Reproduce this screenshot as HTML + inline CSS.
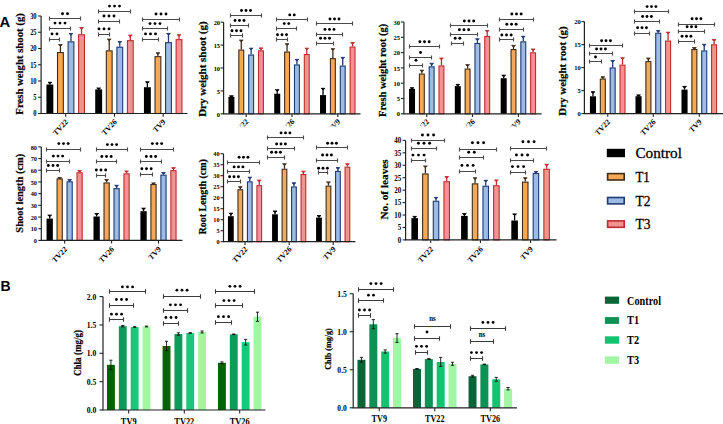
<!DOCTYPE html><html><head><meta charset="utf-8"><style>html,body{margin:0;padding:0;background:#fff;}svg{display:block;}</style></head><body>
<svg width="723" height="424" viewBox="0 0 723 424">
<rect width="723" height="424" fill="#fff"/>
<text transform="translate(-0.5,26.8) scale(1,1)" font-family='"Liberation Sans", sans-serif' font-size="14.8" font-weight="bold" text-anchor="start" fill="#000">A</text>
<text transform="translate(0.5,290.6) scale(1,1)" font-family='"Liberation Sans", sans-serif' font-size="14" font-weight="bold" text-anchor="start" fill="#000">B</text>
<path d="M49.88 84.5V82.3" stroke="#000000" stroke-width="1.3" fill="none"/>
<path d="M47.98 82.3H51.77L49.88 83.9Z" stroke="#000000" stroke-width="0.9" fill="#000000"/>
<rect x="46.42" y="84.5" width="6.9" height="29" fill="#000"/>
<path d="M60.43 52V44.6" stroke="#3f2c1a" stroke-width="1.3" fill="none"/>
<path d="M58.53 44.6H62.33L60.43 46.2Z" stroke="#3f2c1a" stroke-width="0.9" fill="#3f2c1a"/>
<rect x="57.52" y="52.55" width="5.8" height="60.95" fill="#f5a855" stroke="#3f2c1a" stroke-width="1.1"/>
<path d="M70.98 41.3V33.5" stroke="#1d3a74" stroke-width="1.3" fill="none"/>
<path d="M69.08 33.5H72.88L70.98 35.1Z" stroke="#1d3a74" stroke-width="0.9" fill="#1d3a74"/>
<rect x="68.08" y="41.85" width="5.8" height="71.65" fill="#9dbbe3" stroke="#1d3a74" stroke-width="1.1"/>
<path d="M81.53 34.2V27.6" stroke="#c22b2d" stroke-width="1.3" fill="none"/>
<path d="M79.62 27.6H83.43L81.53 29.2Z" stroke="#c22b2d" stroke-width="0.9" fill="#c22b2d"/>
<rect x="78.62" y="34.75" width="5.8" height="78.75" fill="#f29393" stroke="#c22b2d" stroke-width="1.1"/>
<path d="M98.67 89.4V88" stroke="#000000" stroke-width="1.3" fill="none"/>
<path d="M96.77 88H100.58L98.67 89.6Z" stroke="#000000" stroke-width="0.9" fill="#000000"/>
<rect x="95.22" y="89.4" width="6.9" height="24.1" fill="#000"/>
<path d="M109.22 50.3V39.1" stroke="#3f2c1a" stroke-width="1.3" fill="none"/>
<path d="M107.32 39.1H111.12L109.22 40.7Z" stroke="#3f2c1a" stroke-width="0.9" fill="#3f2c1a"/>
<rect x="106.32" y="50.85" width="5.8" height="62.65" fill="#f5a855" stroke="#3f2c1a" stroke-width="1.1"/>
<path d="M119.78 46.7V41.6" stroke="#1d3a74" stroke-width="1.3" fill="none"/>
<path d="M117.88 41.6H121.68L119.78 43.2Z" stroke="#1d3a74" stroke-width="0.9" fill="#1d3a74"/>
<rect x="116.88" y="47.25" width="5.8" height="66.25" fill="#9dbbe3" stroke="#1d3a74" stroke-width="1.1"/>
<path d="M130.32 40.1V35.1" stroke="#c22b2d" stroke-width="1.3" fill="none"/>
<path d="M128.42 35.1H132.22L130.32 36.7Z" stroke="#c22b2d" stroke-width="0.9" fill="#c22b2d"/>
<rect x="127.42" y="40.65" width="5.8" height="72.85" fill="#f29393" stroke="#c22b2d" stroke-width="1.1"/>
<path d="M147.38 87.2V81.8" stroke="#000000" stroke-width="1.3" fill="none"/>
<path d="M145.47 81.8H149.28L147.38 83.4Z" stroke="#000000" stroke-width="0.9" fill="#000000"/>
<rect x="143.93" y="87.2" width="6.9" height="26.3" fill="#000"/>
<path d="M157.92 56.1V52.8" stroke="#3f2c1a" stroke-width="1.3" fill="none"/>
<path d="M156.02 52.8H159.82L157.92 54.4Z" stroke="#3f2c1a" stroke-width="0.9" fill="#3f2c1a"/>
<rect x="155.03" y="56.65" width="5.8" height="56.85" fill="#f5a855" stroke="#3f2c1a" stroke-width="1.1"/>
<path d="M168.47 42.1V33.5" stroke="#1d3a74" stroke-width="1.3" fill="none"/>
<path d="M166.57 33.5H170.38L168.47 35.1Z" stroke="#1d3a74" stroke-width="0.9" fill="#1d3a74"/>
<rect x="165.58" y="42.65" width="5.8" height="70.85" fill="#9dbbe3" stroke="#1d3a74" stroke-width="1.1"/>
<path d="M179.02 39.1V34.7" stroke="#c22b2d" stroke-width="1.3" fill="none"/>
<path d="M177.12 34.7H180.92L179.02 36.3Z" stroke="#c22b2d" stroke-width="0.9" fill="#c22b2d"/>
<rect x="176.12" y="39.65" width="5.8" height="73.85" fill="#f29393" stroke="#c22b2d" stroke-width="1.1"/>
<path d="M41.1 16V113.5H187.5" stroke="#222" stroke-width="1.2" fill="none"/>
<path d="M38.1 113.5H41.1" stroke="#222" stroke-width="1.1"/>
<text transform="translate(36.6,116.47) scale(0.85,1)" font-family='"Liberation Serif", serif' font-size="7.6" font-weight="bold" text-anchor="end" fill="#000">0</text>
<path d="M38.1 97.25H41.1" stroke="#222" stroke-width="1.1"/>
<text transform="translate(36.6,100.22) scale(0.85,1)" font-family='"Liberation Serif", serif' font-size="7.6" font-weight="bold" text-anchor="end" fill="#000">5</text>
<path d="M38.1 81H41.1" stroke="#222" stroke-width="1.1"/>
<text transform="translate(36.6,83.97) scale(0.85,1)" font-family='"Liberation Serif", serif' font-size="7.6" font-weight="bold" text-anchor="end" fill="#000">10</text>
<path d="M38.1 64.75H41.1" stroke="#222" stroke-width="1.1"/>
<text transform="translate(36.6,67.72) scale(0.85,1)" font-family='"Liberation Serif", serif' font-size="7.6" font-weight="bold" text-anchor="end" fill="#000">15</text>
<path d="M38.1 48.5H41.1" stroke="#222" stroke-width="1.1"/>
<text transform="translate(36.6,51.47) scale(0.85,1)" font-family='"Liberation Serif", serif' font-size="7.6" font-weight="bold" text-anchor="end" fill="#000">20</text>
<path d="M38.1 32.25H41.1" stroke="#222" stroke-width="1.1"/>
<text transform="translate(36.6,35.22) scale(0.85,1)" font-family='"Liberation Serif", serif' font-size="7.6" font-weight="bold" text-anchor="end" fill="#000">25</text>
<path d="M38.1 16H41.1" stroke="#222" stroke-width="1.1"/>
<text transform="translate(36.6,18.97) scale(0.85,1)" font-family='"Liberation Serif", serif' font-size="7.6" font-weight="bold" text-anchor="end" fill="#000">30</text>
<path d="M65.7 113.5V116.7" stroke="#222" stroke-width="1.1"/>
<path d="M114.5 113.5V116.7" stroke="#222" stroke-width="1.1"/>
<path d="M163.2 113.5V116.7" stroke="#222" stroke-width="1.1"/>
<path d="M49.5 39.5H59.5M49.5 37.6V41.4M59.5 37.6V41.4" stroke="#4a4a4a" stroke-width="1.15" fill="none"/>
<circle cx="52" cy="33.9" r="1.45" fill="#000"/>
<circle cx="57" cy="33.9" r="1.45" fill="#000"/>
<path d="M49.5 28.5H70.5M49.5 26.6V30.4M70.5 26.6V30.4" stroke="#4a4a4a" stroke-width="1.15" fill="none"/>
<circle cx="55" cy="23.1" r="1.45" fill="#000"/>
<circle cx="60" cy="23.1" r="1.45" fill="#000"/>
<circle cx="65" cy="23.1" r="1.45" fill="#000"/>
<path d="M49.5 18.5H80.5M49.5 16.6V20.4M80.5 16.6V20.4" stroke="#4a4a4a" stroke-width="1.15" fill="none"/>
<circle cx="62.5" cy="13.7" r="1.45" fill="#000"/>
<circle cx="67.5" cy="13.7" r="1.45" fill="#000"/>
<path d="M98.5 34.5H109.5M98.5 32.6V36.4M109.5 32.6V36.4" stroke="#4a4a4a" stroke-width="1.15" fill="none"/>
<circle cx="99" cy="28.9" r="1.45" fill="#000"/>
<circle cx="104" cy="28.9" r="1.45" fill="#000"/>
<circle cx="109" cy="28.9" r="1.45" fill="#000"/>
<path d="M98.5 21.5H119.5M98.5 19.6V23.4M119.5 19.6V23.4" stroke="#4a4a4a" stroke-width="1.15" fill="none"/>
<circle cx="104" cy="16" r="1.45" fill="#000"/>
<circle cx="109" cy="16" r="1.45" fill="#000"/>
<circle cx="114" cy="16" r="1.45" fill="#000"/>
<path d="M98.5 11.5H130.5M98.5 9.6V13.4M130.5 9.6V13.4" stroke="#4a4a4a" stroke-width="1.15" fill="none"/>
<circle cx="109.5" cy="6.1" r="1.45" fill="#000"/>
<circle cx="114.5" cy="6.1" r="1.45" fill="#000"/>
<circle cx="119.5" cy="6.1" r="1.45" fill="#000"/>
<path d="M142.5 39.5H158.5M142.5 37.6V41.4M158.5 37.6V41.4" stroke="#4a4a4a" stroke-width="1.15" fill="none"/>
<circle cx="145.5" cy="33.9" r="1.45" fill="#000"/>
<circle cx="150.5" cy="33.9" r="1.45" fill="#000"/>
<circle cx="155.5" cy="33.9" r="1.45" fill="#000"/>
<path d="M142.5 28.5H167.5M142.5 26.6V30.4M167.5 26.6V30.4" stroke="#4a4a4a" stroke-width="1.15" fill="none"/>
<circle cx="150" cy="23.6" r="1.45" fill="#000"/>
<circle cx="155" cy="23.6" r="1.45" fill="#000"/>
<circle cx="160" cy="23.6" r="1.45" fill="#000"/>
<path d="M142.5 19.5H179.5M142.5 17.6V21.4M179.5 17.6V21.4" stroke="#4a4a4a" stroke-width="1.15" fill="none"/>
<circle cx="156" cy="14" r="1.45" fill="#000"/>
<circle cx="161" cy="14" r="1.45" fill="#000"/>
<circle cx="166" cy="14" r="1.45" fill="#000"/>
<text transform="translate(23.2,63.9) rotate(-90)" font-family='"Liberation Serif", serif' font-size="9.9" font-weight="bold" text-anchor="middle" stroke="#000" stroke-width="0.2" textLength="101.5" lengthAdjust="spacingAndGlyphs">Fresh weight shoot (g)</text>
<path d="M231.42 96.8V95.8" stroke="#000000" stroke-width="1.3" fill="none"/>
<path d="M229.52 95.8H233.32L231.42 97.4Z" stroke="#000000" stroke-width="0.9" fill="#000000"/>
<rect x="228.42" y="96.8" width="6" height="17" fill="#000"/>
<path d="M241.27 49.5V40.1" stroke="#3f2c1a" stroke-width="1.3" fill="none"/>
<path d="M239.37 40.1H243.17L241.27 41.7Z" stroke="#3f2c1a" stroke-width="0.9" fill="#3f2c1a"/>
<rect x="238.82" y="50.05" width="4.9" height="63.75" fill="#f5a855" stroke="#3f2c1a" stroke-width="1.1"/>
<path d="M251.12 54.5V48.2" stroke="#1d3a74" stroke-width="1.3" fill="none"/>
<path d="M249.22 48.2H253.03L251.12 49.8Z" stroke="#1d3a74" stroke-width="0.9" fill="#1d3a74"/>
<rect x="248.68" y="55.05" width="4.9" height="58.75" fill="#9dbbe3" stroke="#1d3a74" stroke-width="1.1"/>
<path d="M260.97 50.3V47.9" stroke="#c22b2d" stroke-width="1.3" fill="none"/>
<path d="M259.07 47.9H262.87L260.97 49.5Z" stroke="#c22b2d" stroke-width="0.9" fill="#c22b2d"/>
<rect x="258.52" y="50.85" width="4.9" height="62.95" fill="#f29393" stroke="#c22b2d" stroke-width="1.1"/>
<path d="M277.23 93.7V89.7" stroke="#000000" stroke-width="1.3" fill="none"/>
<path d="M275.33 89.7H279.12L277.23 91.3Z" stroke="#000000" stroke-width="0.9" fill="#000000"/>
<rect x="274.23" y="93.7" width="6" height="20.1" fill="#000"/>
<path d="M287.07 51.5V43.7" stroke="#3f2c1a" stroke-width="1.3" fill="none"/>
<path d="M285.18 43.7H288.97L287.07 45.3Z" stroke="#3f2c1a" stroke-width="0.9" fill="#3f2c1a"/>
<rect x="284.62" y="52.05" width="4.9" height="61.75" fill="#f5a855" stroke="#3f2c1a" stroke-width="1.1"/>
<path d="M296.93 64.4V59.4" stroke="#1d3a74" stroke-width="1.3" fill="none"/>
<path d="M295.03 59.4H298.82L296.93 61Z" stroke="#1d3a74" stroke-width="0.9" fill="#1d3a74"/>
<rect x="294.48" y="64.95" width="4.9" height="48.85" fill="#9dbbe3" stroke="#1d3a74" stroke-width="1.1"/>
<path d="M306.77 54V48.2" stroke="#c22b2d" stroke-width="1.3" fill="none"/>
<path d="M304.88 48.2H308.67L306.77 49.8Z" stroke="#c22b2d" stroke-width="0.9" fill="#c22b2d"/>
<rect x="304.32" y="54.55" width="4.9" height="59.25" fill="#f29393" stroke="#c22b2d" stroke-width="1.1"/>
<path d="M323.03 95.1V88.3" stroke="#000000" stroke-width="1.3" fill="none"/>
<path d="M321.13 88.3H324.93L323.03 89.9Z" stroke="#000000" stroke-width="0.9" fill="#000000"/>
<rect x="320.03" y="95.1" width="6" height="18.7" fill="#000"/>
<path d="M332.88 58.1V48.7" stroke="#3f2c1a" stroke-width="1.3" fill="none"/>
<path d="M330.98 48.7H334.77L332.88 50.3Z" stroke="#3f2c1a" stroke-width="0.9" fill="#3f2c1a"/>
<rect x="330.43" y="58.65" width="4.9" height="55.15" fill="#f5a855" stroke="#3f2c1a" stroke-width="1.1"/>
<path d="M342.73 65.5V57.4" stroke="#1d3a74" stroke-width="1.3" fill="none"/>
<path d="M340.83 57.4H344.62L342.73 59Z" stroke="#1d3a74" stroke-width="0.9" fill="#1d3a74"/>
<rect x="340.28" y="66.05" width="4.9" height="47.75" fill="#9dbbe3" stroke="#1d3a74" stroke-width="1.1"/>
<path d="M352.57 46.5V42.6" stroke="#c22b2d" stroke-width="1.3" fill="none"/>
<path d="M350.68 42.6H354.47L352.57 44.2Z" stroke="#c22b2d" stroke-width="0.9" fill="#c22b2d"/>
<rect x="350.12" y="47.05" width="4.9" height="66.75" fill="#f29393" stroke="#c22b2d" stroke-width="1.1"/>
<path d="M223.6 22.2V113.8H360.5" stroke="#222" stroke-width="1.2" fill="none"/>
<path d="M220.6 113.8H223.6" stroke="#222" stroke-width="1.1"/>
<text transform="translate(220.1,116.5) scale(0.95,1)" font-family='"Liberation Serif", serif' font-size="6.8" font-weight="bold" text-anchor="end" fill="#000">0</text>
<path d="M220.6 90.9H223.6" stroke="#222" stroke-width="1.1"/>
<text transform="translate(220.1,93.6) scale(0.95,1)" font-family='"Liberation Serif", serif' font-size="6.8" font-weight="bold" text-anchor="end" fill="#000">5</text>
<path d="M220.6 68H223.6" stroke="#222" stroke-width="1.1"/>
<text transform="translate(220.1,70.7) scale(0.95,1)" font-family='"Liberation Serif", serif' font-size="6.8" font-weight="bold" text-anchor="end" fill="#000">10</text>
<path d="M220.6 45.1H223.6" stroke="#222" stroke-width="1.1"/>
<text transform="translate(220.1,47.8) scale(0.95,1)" font-family='"Liberation Serif", serif' font-size="6.8" font-weight="bold" text-anchor="end" fill="#000">15</text>
<path d="M220.6 22.2H223.6" stroke="#222" stroke-width="1.1"/>
<text transform="translate(220.1,24.9) scale(0.95,1)" font-family='"Liberation Serif", serif' font-size="6.8" font-weight="bold" text-anchor="end" fill="#000">20</text>
<path d="M246.2 113.8V117" stroke="#222" stroke-width="1.1"/>
<path d="M292 113.8V117" stroke="#222" stroke-width="1.1"/>
<path d="M337.8 113.8V117" stroke="#222" stroke-width="1.1"/>
<path d="M230.5 35.5H242.5M230.5 33.6V37.4M242.5 33.6V37.4" stroke="#4a4a4a" stroke-width="1.15" fill="none"/>
<circle cx="232" cy="30.8" r="1.45" fill="#000"/>
<circle cx="236.5" cy="30.8" r="1.45" fill="#000"/>
<circle cx="241" cy="30.8" r="1.45" fill="#000"/>
<path d="M230.5 25.5H248.5M230.5 23.6V27.4M248.5 23.6V27.4" stroke="#4a4a4a" stroke-width="1.15" fill="none"/>
<circle cx="235" cy="20.5" r="1.45" fill="#000"/>
<circle cx="239.5" cy="20.5" r="1.45" fill="#000"/>
<circle cx="244" cy="20.5" r="1.45" fill="#000"/>
<path d="M230.5 15.5H261.5M230.5 13.6V17.4M261.5 13.6V17.4" stroke="#4a4a4a" stroke-width="1.15" fill="none"/>
<circle cx="241.5" cy="10.5" r="1.45" fill="#000"/>
<circle cx="246" cy="10.5" r="1.45" fill="#000"/>
<circle cx="250.5" cy="10.5" r="1.45" fill="#000"/>
<path d="M276.5 39.5H287.5M276.5 37.6V41.4M287.5 37.6V41.4" stroke="#4a4a4a" stroke-width="1.15" fill="none"/>
<circle cx="277.5" cy="34.7" r="1.45" fill="#000"/>
<circle cx="282" cy="34.7" r="1.45" fill="#000"/>
<circle cx="286.5" cy="34.7" r="1.45" fill="#000"/>
<path d="M276.5 28.5H296.5M276.5 26.6V30.4M296.5 26.6V30.4" stroke="#4a4a4a" stroke-width="1.15" fill="none"/>
<circle cx="284.25" cy="23.6" r="1.45" fill="#000"/>
<circle cx="288.75" cy="23.6" r="1.45" fill="#000"/>
<path d="M276.5 19.5H307.5M276.5 17.6V21.4M307.5 17.6V21.4" stroke="#4a4a4a" stroke-width="1.15" fill="none"/>
<circle cx="289.75" cy="14.9" r="1.45" fill="#000"/>
<circle cx="294.25" cy="14.9" r="1.45" fill="#000"/>
<path d="M316.5 43.5H333.5M316.5 41.6V45.4M333.5 41.6V45.4" stroke="#4a4a4a" stroke-width="1.15" fill="none"/>
<circle cx="320.5" cy="38.3" r="1.45" fill="#000"/>
<circle cx="325" cy="38.3" r="1.45" fill="#000"/>
<circle cx="329.5" cy="38.3" r="1.45" fill="#000"/>
<path d="M316.5 34.5H342.5M316.5 32.6V36.4M342.5 32.6V36.4" stroke="#4a4a4a" stroke-width="1.15" fill="none"/>
<circle cx="325" cy="29.4" r="1.45" fill="#000"/>
<circle cx="329.5" cy="29.4" r="1.45" fill="#000"/>
<circle cx="334" cy="29.4" r="1.45" fill="#000"/>
<path d="M316.5 23.5H352.5M316.5 21.6V25.4M352.5 21.6V25.4" stroke="#4a4a4a" stroke-width="1.15" fill="none"/>
<circle cx="330" cy="19" r="1.45" fill="#000"/>
<circle cx="334.5" cy="19" r="1.45" fill="#000"/>
<circle cx="339" cy="19" r="1.45" fill="#000"/>
<text transform="translate(205.9,69.1) rotate(-90)" font-family='"Liberation Serif", serif' font-size="9.9" font-weight="bold" text-anchor="middle" stroke="#000" stroke-width="0.2" textLength="95.5" lengthAdjust="spacingAndGlyphs">Dry weight shoot (g)</text>
<path d="M412.05 88.9V87.7" stroke="#000000" stroke-width="1.3" fill="none"/>
<path d="M410.15 87.7H413.95L412.05 89.3Z" stroke="#000000" stroke-width="0.9" fill="#000000"/>
<rect x="409.05" y="88.9" width="6" height="24.9" fill="#000"/>
<path d="M421.85 73.5V70.2" stroke="#3f2c1a" stroke-width="1.3" fill="none"/>
<path d="M419.95 70.2H423.75L421.85 71.8Z" stroke="#3f2c1a" stroke-width="0.9" fill="#3f2c1a"/>
<rect x="419.4" y="74.05" width="4.9" height="39.75" fill="#f5a855" stroke="#3f2c1a" stroke-width="1.1"/>
<path d="M431.65 66.3V63.3" stroke="#1d3a74" stroke-width="1.3" fill="none"/>
<path d="M429.75 63.3H433.55L431.65 64.9Z" stroke="#1d3a74" stroke-width="0.9" fill="#1d3a74"/>
<rect x="429.2" y="66.85" width="4.9" height="46.95" fill="#9dbbe3" stroke="#1d3a74" stroke-width="1.1"/>
<path d="M441.45 65.4V58.1" stroke="#c22b2d" stroke-width="1.3" fill="none"/>
<path d="M439.55 58.1H443.35L441.45 59.7Z" stroke="#c22b2d" stroke-width="0.9" fill="#c22b2d"/>
<rect x="439" y="65.95" width="4.9" height="47.85" fill="#f29393" stroke="#c22b2d" stroke-width="1.1"/>
<path d="M457.8 86.1V84.4" stroke="#000000" stroke-width="1.3" fill="none"/>
<path d="M455.9 84.4H459.7L457.8 86Z" stroke="#000000" stroke-width="0.9" fill="#000000"/>
<rect x="454.8" y="86.1" width="6" height="27.7" fill="#000"/>
<path d="M467.6 68.5V64.7" stroke="#3f2c1a" stroke-width="1.3" fill="none"/>
<path d="M465.7 64.7H469.5L467.6 66.3Z" stroke="#3f2c1a" stroke-width="0.9" fill="#3f2c1a"/>
<rect x="465.15" y="69.05" width="4.9" height="44.75" fill="#f5a855" stroke="#3f2c1a" stroke-width="1.1"/>
<path d="M477.4 42.9V38.8" stroke="#1d3a74" stroke-width="1.3" fill="none"/>
<path d="M475.5 38.8H479.3L477.4 40.4Z" stroke="#1d3a74" stroke-width="0.9" fill="#1d3a74"/>
<rect x="474.95" y="43.45" width="4.9" height="70.35" fill="#9dbbe3" stroke="#1d3a74" stroke-width="1.1"/>
<path d="M487.2 36V30.5" stroke="#c22b2d" stroke-width="1.3" fill="none"/>
<path d="M485.3 30.5H489.1L487.2 32.1Z" stroke="#c22b2d" stroke-width="0.9" fill="#c22b2d"/>
<rect x="484.75" y="36.55" width="4.9" height="77.25" fill="#f29393" stroke="#c22b2d" stroke-width="1.1"/>
<path d="M503.7 78.2V75.2" stroke="#000000" stroke-width="1.3" fill="none"/>
<path d="M501.8 75.2H505.6L503.7 76.8Z" stroke="#000000" stroke-width="0.9" fill="#000000"/>
<rect x="500.7" y="78.2" width="6" height="35.6" fill="#000"/>
<path d="M513.5 49V45.4" stroke="#3f2c1a" stroke-width="1.3" fill="none"/>
<path d="M511.6 45.4H515.4L513.5 47Z" stroke="#3f2c1a" stroke-width="0.9" fill="#3f2c1a"/>
<rect x="511.05" y="49.55" width="4.9" height="64.25" fill="#f5a855" stroke="#3f2c1a" stroke-width="1.1"/>
<path d="M523.3 41.3V36.3" stroke="#1d3a74" stroke-width="1.3" fill="none"/>
<path d="M521.4 36.3H525.2L523.3 37.9Z" stroke="#1d3a74" stroke-width="0.9" fill="#1d3a74"/>
<rect x="520.85" y="41.85" width="4.9" height="71.95" fill="#9dbbe3" stroke="#1d3a74" stroke-width="1.1"/>
<path d="M533.1 52.3V49" stroke="#c22b2d" stroke-width="1.3" fill="none"/>
<path d="M531.2 49H535L533.1 50.6Z" stroke="#c22b2d" stroke-width="0.9" fill="#c22b2d"/>
<rect x="530.65" y="52.85" width="4.9" height="60.95" fill="#f29393" stroke="#c22b2d" stroke-width="1.1"/>
<path d="M403.9 22V113.8H541.6" stroke="#222" stroke-width="1.2" fill="none"/>
<path d="M400.9 113.8H403.9" stroke="#222" stroke-width="1.1"/>
<text transform="translate(400.1,116.46) scale(0.97,1)" font-family='"Liberation Serif", serif' font-size="6.7" font-weight="bold" text-anchor="end" fill="#000">0</text>
<path d="M400.9 98.5H403.9" stroke="#222" stroke-width="1.1"/>
<text transform="translate(400.1,101.16) scale(0.97,1)" font-family='"Liberation Serif", serif' font-size="6.7" font-weight="bold" text-anchor="end" fill="#000">5</text>
<path d="M400.9 83.2H403.9" stroke="#222" stroke-width="1.1"/>
<text transform="translate(400.1,85.86) scale(0.97,1)" font-family='"Liberation Serif", serif' font-size="6.7" font-weight="bold" text-anchor="end" fill="#000">10</text>
<path d="M400.9 67.9H403.9" stroke="#222" stroke-width="1.1"/>
<text transform="translate(400.1,70.56) scale(0.97,1)" font-family='"Liberation Serif", serif' font-size="6.7" font-weight="bold" text-anchor="end" fill="#000">15</text>
<path d="M400.9 52.6H403.9" stroke="#222" stroke-width="1.1"/>
<text transform="translate(400.1,55.26) scale(0.97,1)" font-family='"Liberation Serif", serif' font-size="6.7" font-weight="bold" text-anchor="end" fill="#000">20</text>
<path d="M400.9 37.3H403.9" stroke="#222" stroke-width="1.1"/>
<text transform="translate(400.1,39.96) scale(0.97,1)" font-family='"Liberation Serif", serif' font-size="6.7" font-weight="bold" text-anchor="end" fill="#000">25</text>
<path d="M400.9 22H403.9" stroke="#222" stroke-width="1.1"/>
<text transform="translate(400.1,24.66) scale(0.97,1)" font-family='"Liberation Serif", serif' font-size="6.7" font-weight="bold" text-anchor="end" fill="#000">30</text>
<path d="M426.75 113.8V117" stroke="#222" stroke-width="1.1"/>
<path d="M472.5 113.8V117" stroke="#222" stroke-width="1.1"/>
<path d="M518.4 113.8V117" stroke="#222" stroke-width="1.1"/>
<path d="M409.5 65.5H422.5M409.5 63.6V67.4M422.5 63.6V67.4" stroke="#4a4a4a" stroke-width="1.15" fill="none"/>
<circle cx="416" cy="60.3" r="1.45" fill="#000"/>
<path d="M409.5 57.5H431.5M409.5 55.6V59.4M431.5 55.6V59.4" stroke="#4a4a4a" stroke-width="1.15" fill="none"/>
<circle cx="420.5" cy="52.5" r="1.45" fill="#000"/>
<path d="M409.5 46.5H439.5M409.5 44.6V48.4M439.5 44.6V48.4" stroke="#4a4a4a" stroke-width="1.15" fill="none"/>
<circle cx="419.85" cy="41.8" r="1.45" fill="#000"/>
<circle cx="424.5" cy="41.8" r="1.45" fill="#000"/>
<circle cx="429.15" cy="41.8" r="1.45" fill="#000"/>
<path d="M451.5 43.5H463.5M451.5 41.6V45.4M463.5 41.6V45.4" stroke="#4a4a4a" stroke-width="1.15" fill="none"/>
<circle cx="455.18" cy="38.3" r="1.45" fill="#000"/>
<circle cx="459.82" cy="38.3" r="1.45" fill="#000"/>
<path d="M450.5 34.5H477.5M450.5 32.6V36.4M477.5 32.6V36.4" stroke="#4a4a4a" stroke-width="1.15" fill="none"/>
<circle cx="459.35" cy="29.7" r="1.45" fill="#000"/>
<circle cx="464" cy="29.7" r="1.45" fill="#000"/>
<circle cx="468.65" cy="29.7" r="1.45" fill="#000"/>
<path d="M450.5 25.5H487.5M450.5 23.6V27.4M487.5 23.6V27.4" stroke="#4a4a4a" stroke-width="1.15" fill="none"/>
<circle cx="464.35" cy="21" r="1.45" fill="#000"/>
<circle cx="469" cy="21" r="1.45" fill="#000"/>
<circle cx="473.65" cy="21" r="1.45" fill="#000"/>
<path d="M499.5 39.5H513.5M499.5 37.6V41.4M513.5 37.6V41.4" stroke="#4a4a4a" stroke-width="1.15" fill="none"/>
<circle cx="501.85" cy="35" r="1.45" fill="#000"/>
<circle cx="506.5" cy="35" r="1.45" fill="#000"/>
<circle cx="511.15" cy="35" r="1.45" fill="#000"/>
<path d="M499.5 29.5H523.5M499.5 27.6V31.4M523.5 27.6V31.4" stroke="#4a4a4a" stroke-width="1.15" fill="none"/>
<circle cx="506.85" cy="24.3" r="1.45" fill="#000"/>
<circle cx="511.5" cy="24.3" r="1.45" fill="#000"/>
<circle cx="516.15" cy="24.3" r="1.45" fill="#000"/>
<path d="M499.5 19.5H533.5M499.5 17.6V21.4M533.5 17.6V21.4" stroke="#4a4a4a" stroke-width="1.15" fill="none"/>
<circle cx="511.85" cy="14" r="1.45" fill="#000"/>
<circle cx="516.5" cy="14" r="1.45" fill="#000"/>
<circle cx="521.15" cy="14" r="1.45" fill="#000"/>
<text transform="translate(386.4,70.4) rotate(-90)" font-family='"Liberation Serif", serif' font-size="9.9" font-weight="bold" text-anchor="middle" stroke="#000" stroke-width="0.2" textLength="93.2" lengthAdjust="spacingAndGlyphs">Fresh weight root (g)</text>
<path d="M592.98 96.3V91.7" stroke="#000000" stroke-width="1.3" fill="none"/>
<path d="M591.08 91.7H594.88L592.98 93.3Z" stroke="#000000" stroke-width="0.9" fill="#000000"/>
<rect x="589.93" y="96.3" width="6.1" height="17.3" fill="#000"/>
<path d="M602.83 78.5V76.8" stroke="#3f2c1a" stroke-width="1.3" fill="none"/>
<path d="M600.93 76.8H604.73L602.83 78.4Z" stroke="#3f2c1a" stroke-width="0.9" fill="#3f2c1a"/>
<rect x="600.33" y="79.05" width="5" height="34.55" fill="#f5a855" stroke="#3f2c1a" stroke-width="1.1"/>
<path d="M612.67 67.4V60.6" stroke="#1d3a74" stroke-width="1.3" fill="none"/>
<path d="M610.77 60.6H614.57L612.67 62.2Z" stroke="#1d3a74" stroke-width="0.9" fill="#1d3a74"/>
<rect x="610.17" y="67.95" width="5" height="45.65" fill="#9dbbe3" stroke="#1d3a74" stroke-width="1.1"/>
<path d="M622.52 64.6V57.8" stroke="#c22b2d" stroke-width="1.3" fill="none"/>
<path d="M620.62 57.8H624.42L622.52 59.4Z" stroke="#c22b2d" stroke-width="0.9" fill="#c22b2d"/>
<rect x="620.02" y="65.15" width="5" height="48.45" fill="#f29393" stroke="#c22b2d" stroke-width="1.1"/>
<path d="M638.52 96.2V94.9" stroke="#000000" stroke-width="1.3" fill="none"/>
<path d="M636.62 94.9H640.42L638.52 96.5Z" stroke="#000000" stroke-width="0.9" fill="#000000"/>
<rect x="635.48" y="96.2" width="6.1" height="17.4" fill="#000"/>
<path d="M648.38 61.1V58.1" stroke="#3f2c1a" stroke-width="1.3" fill="none"/>
<path d="M646.48 58.1H650.27L648.38 59.7Z" stroke="#3f2c1a" stroke-width="0.9" fill="#3f2c1a"/>
<rect x="645.88" y="61.65" width="5" height="51.95" fill="#f5a855" stroke="#3f2c1a" stroke-width="1.1"/>
<path d="M658.22 32.7V30.6" stroke="#1d3a74" stroke-width="1.3" fill="none"/>
<path d="M656.32 30.6H660.12L658.22 32.2Z" stroke="#1d3a74" stroke-width="0.9" fill="#1d3a74"/>
<rect x="655.72" y="33.25" width="5" height="80.35" fill="#9dbbe3" stroke="#1d3a74" stroke-width="1.1"/>
<path d="M668.07 40.5V32.2" stroke="#c22b2d" stroke-width="1.3" fill="none"/>
<path d="M666.17 32.2H669.97L668.07 33.8Z" stroke="#c22b2d" stroke-width="0.9" fill="#c22b2d"/>
<rect x="665.57" y="41.05" width="5" height="72.55" fill="#f29393" stroke="#c22b2d" stroke-width="1.1"/>
<path d="M684.52 89.6V86.4" stroke="#000000" stroke-width="1.3" fill="none"/>
<path d="M682.62 86.4H686.42L684.52 88Z" stroke="#000000" stroke-width="0.9" fill="#000000"/>
<rect x="681.48" y="89.6" width="6.1" height="24" fill="#000"/>
<path d="M694.38 49V47.6" stroke="#3f2c1a" stroke-width="1.3" fill="none"/>
<path d="M692.48 47.6H696.27L694.38 49.2Z" stroke="#3f2c1a" stroke-width="0.9" fill="#3f2c1a"/>
<rect x="691.88" y="49.55" width="5" height="64.05" fill="#f5a855" stroke="#3f2c1a" stroke-width="1.1"/>
<path d="M704.22 50.4V44.3" stroke="#1d3a74" stroke-width="1.3" fill="none"/>
<path d="M702.32 44.3H706.12L704.22 45.9Z" stroke="#1d3a74" stroke-width="0.9" fill="#1d3a74"/>
<rect x="701.72" y="50.95" width="5" height="62.65" fill="#9dbbe3" stroke="#1d3a74" stroke-width="1.1"/>
<path d="M714.07 44.3V39.6" stroke="#c22b2d" stroke-width="1.3" fill="none"/>
<path d="M712.17 39.6H715.97L714.07 41.2Z" stroke="#c22b2d" stroke-width="0.9" fill="#c22b2d"/>
<rect x="711.57" y="44.85" width="5" height="68.75" fill="#f29393" stroke="#c22b2d" stroke-width="1.1"/>
<path d="M584.4 21.5V113.6H723" stroke="#222" stroke-width="1.2" fill="none"/>
<path d="M581.4 113.6H584.4" stroke="#222" stroke-width="1.1"/>
<text transform="translate(580.8,116.3) scale(0.97,1)" font-family='"Liberation Serif", serif' font-size="6.8" font-weight="bold" text-anchor="end" fill="#000">0</text>
<path d="M581.4 90.6H584.4" stroke="#222" stroke-width="1.1"/>
<text transform="translate(580.8,93.3) scale(0.97,1)" font-family='"Liberation Serif", serif' font-size="6.8" font-weight="bold" text-anchor="end" fill="#000">5</text>
<path d="M581.4 67.6H584.4" stroke="#222" stroke-width="1.1"/>
<text transform="translate(580.8,70.3) scale(0.97,1)" font-family='"Liberation Serif", serif' font-size="6.8" font-weight="bold" text-anchor="end" fill="#000">10</text>
<path d="M581.4 44.6H584.4" stroke="#222" stroke-width="1.1"/>
<text transform="translate(580.8,47.3) scale(0.97,1)" font-family='"Liberation Serif", serif' font-size="6.8" font-weight="bold" text-anchor="end" fill="#000">15</text>
<path d="M581.4 21.6H584.4" stroke="#222" stroke-width="1.1"/>
<text transform="translate(580.8,24.3) scale(0.97,1)" font-family='"Liberation Serif", serif' font-size="6.8" font-weight="bold" text-anchor="end" fill="#000">20</text>
<path d="M607.75 113.6V116.8" stroke="#222" stroke-width="1.1"/>
<path d="M653.3 113.6V116.8" stroke="#222" stroke-width="1.1"/>
<path d="M699.3 113.6V116.8" stroke="#222" stroke-width="1.1"/>
<path d="M589.5 61.5H601.5M589.5 59.6V63.4M601.5 59.6V63.4" stroke="#4a4a4a" stroke-width="1.15" fill="none"/>
<circle cx="595.5" cy="57" r="1.45" fill="#000"/>
<path d="M589.5 53.5H612.5M589.5 51.6V55.4M612.5 51.6V55.4" stroke="#4a4a4a" stroke-width="1.15" fill="none"/>
<circle cx="596.6" cy="49" r="1.45" fill="#000"/>
<circle cx="601" cy="49" r="1.45" fill="#000"/>
<circle cx="605.4" cy="49" r="1.45" fill="#000"/>
<path d="M589.5 45.5H622.5M589.5 43.6V47.4M622.5 43.6V47.4" stroke="#4a4a4a" stroke-width="1.15" fill="none"/>
<circle cx="601.6" cy="40.8" r="1.45" fill="#000"/>
<circle cx="606" cy="40.8" r="1.45" fill="#000"/>
<circle cx="610.4" cy="40.8" r="1.45" fill="#000"/>
<path d="M634.5 33.5H649.5M634.5 31.6V35.4M649.5 31.6V35.4" stroke="#4a4a4a" stroke-width="1.15" fill="none"/>
<circle cx="637.6" cy="27.7" r="1.45" fill="#000"/>
<circle cx="642" cy="27.7" r="1.45" fill="#000"/>
<circle cx="646.4" cy="27.7" r="1.45" fill="#000"/>
<path d="M634.5 21.5H659.5M634.5 19.6V23.4M659.5 19.6V23.4" stroke="#4a4a4a" stroke-width="1.15" fill="none"/>
<circle cx="642.6" cy="16.5" r="1.45" fill="#000"/>
<circle cx="647" cy="16.5" r="1.45" fill="#000"/>
<circle cx="651.4" cy="16.5" r="1.45" fill="#000"/>
<path d="M634.5 11.5H668.5M634.5 9.6V13.4M668.5 9.6V13.4" stroke="#4a4a4a" stroke-width="1.15" fill="none"/>
<circle cx="647.1" cy="6.6" r="1.45" fill="#000"/>
<circle cx="651.5" cy="6.6" r="1.45" fill="#000"/>
<circle cx="655.9" cy="6.6" r="1.45" fill="#000"/>
<path d="M678.5 41.5H694.5M678.5 39.6V43.4M694.5 39.6V43.4" stroke="#4a4a4a" stroke-width="1.15" fill="none"/>
<circle cx="682.1" cy="36.3" r="1.45" fill="#000"/>
<circle cx="686.5" cy="36.3" r="1.45" fill="#000"/>
<circle cx="690.9" cy="36.3" r="1.45" fill="#000"/>
<path d="M678.5 31.5H704.5M678.5 29.6V33.4M704.5 29.6V33.4" stroke="#4a4a4a" stroke-width="1.15" fill="none"/>
<circle cx="687.1" cy="26.8" r="1.45" fill="#000"/>
<circle cx="691.5" cy="26.8" r="1.45" fill="#000"/>
<circle cx="695.9" cy="26.8" r="1.45" fill="#000"/>
<path d="M678.5 24.5H714.5M678.5 22.6V26.4M714.5 22.6V26.4" stroke="#4a4a4a" stroke-width="1.15" fill="none"/>
<circle cx="692.1" cy="18.7" r="1.45" fill="#000"/>
<circle cx="696.5" cy="18.7" r="1.45" fill="#000"/>
<circle cx="700.9" cy="18.7" r="1.45" fill="#000"/>
<text transform="translate(566.1,71) rotate(-90)" font-family='"Liberation Serif", serif' font-size="9.9" font-weight="bold" text-anchor="middle" stroke="#000" stroke-width="0.2" textLength="89.3" lengthAdjust="spacingAndGlyphs">Dry weight root (g)</text>
<text transform="translate(68.5,122.3) scale(0.92,1) rotate(-45)" font-family='"Liberation Serif", serif' font-size="8.1" font-weight="bold" text-anchor="end">TV22</text>
<text transform="translate(117.3,122.3) scale(0.92,1) rotate(-45)" font-family='"Liberation Serif", serif' font-size="8.1" font-weight="bold" text-anchor="end">TV26</text>
<text transform="translate(166,122.3) scale(0.92,1) rotate(-45)" font-family='"Liberation Serif", serif' font-size="8.1" font-weight="bold" text-anchor="end">TV9</text>
<text transform="translate(610.55,122.3) scale(0.92,1) rotate(-45)" font-family='"Liberation Serif", serif' font-size="8.1" font-weight="bold" text-anchor="end">TV22</text>
<text transform="translate(656.1,122.3) scale(0.92,1) rotate(-45)" font-family='"Liberation Serif", serif' font-size="8.1" font-weight="bold" text-anchor="end">TV26</text>
<text transform="translate(702.1,122.3) scale(0.92,1) rotate(-45)" font-family='"Liberation Serif", serif' font-size="8.1" font-weight="bold" text-anchor="end">TV9</text>
<text transform="translate(249,122.1) scale(0.92,1) rotate(-45)" font-family='"Liberation Serif", serif' font-size="8.1" font-weight="bold" text-anchor="end">TV22</text>
<text transform="translate(294.8,122.1) scale(0.92,1) rotate(-45)" font-family='"Liberation Serif", serif' font-size="8.1" font-weight="bold" text-anchor="end">TV26</text>
<text transform="translate(340.6,122.1) scale(0.92,1) rotate(-45)" font-family='"Liberation Serif", serif' font-size="8.1" font-weight="bold" text-anchor="end">TV9</text>
<text transform="translate(429.55,122.1) scale(0.92,1) rotate(-45)" font-family='"Liberation Serif", serif' font-size="8.1" font-weight="bold" text-anchor="end">TV22</text>
<text transform="translate(475.3,122.1) scale(0.92,1) rotate(-45)" font-family='"Liberation Serif", serif' font-size="8.1" font-weight="bold" text-anchor="end">TV26</text>
<text transform="translate(521.2,122.1) scale(0.92,1) rotate(-45)" font-family='"Liberation Serif", serif' font-size="8.1" font-weight="bold" text-anchor="end">TV9</text>
<defs><linearGradient id="fade" x1="0" y1="0" x2="0" y2="1"><stop offset="0" stop-color="#fff" stop-opacity="0"/><stop offset="0.27" stop-color="#fff" stop-opacity="1"/><stop offset="1" stop-color="#fff" stop-opacity="1"/></linearGradient></defs>
<rect x="190" y="124.2" width="355" height="13" fill="url(#fade)"/>
<path d="M49.7 218.6V215.1" stroke="#000000" stroke-width="1.3" fill="none"/>
<path d="M47.8 215.1H51.6L49.7 216.7Z" stroke="#000000" stroke-width="0.9" fill="#000000"/>
<rect x="46.55" y="218.6" width="6.3" height="21.8" fill="#000"/>
<path d="M59.67 178.4V177.6" stroke="#3f2c1a" stroke-width="1.3" fill="none"/>
<path d="M57.77 177.6H61.57L59.67 179.2Z" stroke="#3f2c1a" stroke-width="0.9" fill="#3f2c1a"/>
<rect x="57.07" y="178.95" width="5.2" height="61.45" fill="#f5a855" stroke="#3f2c1a" stroke-width="1.1"/>
<path d="M69.64 181.2V179.6" stroke="#1d3a74" stroke-width="1.3" fill="none"/>
<path d="M67.73 179.6H71.54L69.64 181.2Z" stroke="#1d3a74" stroke-width="0.9" fill="#1d3a74"/>
<rect x="67.03" y="181.75" width="5.2" height="58.65" fill="#9dbbe3" stroke="#1d3a74" stroke-width="1.1"/>
<path d="M79.61 172.2V170.5" stroke="#c22b2d" stroke-width="1.3" fill="none"/>
<path d="M77.7 170.5H81.51L79.61 172.1Z" stroke="#c22b2d" stroke-width="0.9" fill="#c22b2d"/>
<rect x="77" y="172.75" width="5.2" height="67.65" fill="#f29393" stroke="#c22b2d" stroke-width="1.1"/>
<path d="M96.64 216.5V213.5" stroke="#000000" stroke-width="1.3" fill="none"/>
<path d="M94.74 213.5H98.55L96.64 215.1Z" stroke="#000000" stroke-width="0.9" fill="#000000"/>
<rect x="93.49" y="216.5" width="6.3" height="23.9" fill="#000"/>
<path d="M106.61 182.4V179.6" stroke="#3f2c1a" stroke-width="1.3" fill="none"/>
<path d="M104.71 179.6H108.52L106.61 181.2Z" stroke="#3f2c1a" stroke-width="0.9" fill="#3f2c1a"/>
<rect x="104.01" y="182.95" width="5.2" height="57.45" fill="#f5a855" stroke="#3f2c1a" stroke-width="1.1"/>
<path d="M116.58 188.1V185.3" stroke="#1d3a74" stroke-width="1.3" fill="none"/>
<path d="M114.68 185.3H118.48L116.58 186.9Z" stroke="#1d3a74" stroke-width="0.9" fill="#1d3a74"/>
<rect x="113.98" y="188.65" width="5.2" height="51.75" fill="#9dbbe3" stroke="#1d3a74" stroke-width="1.1"/>
<path d="M126.55 173.3V171" stroke="#c22b2d" stroke-width="1.3" fill="none"/>
<path d="M124.65 171H128.45L126.55 172.6Z" stroke="#c22b2d" stroke-width="0.9" fill="#c22b2d"/>
<rect x="123.95" y="173.85" width="5.2" height="66.55" fill="#f29393" stroke="#c22b2d" stroke-width="1.1"/>
<path d="M143.54 211.2V208.2" stroke="#000000" stroke-width="1.3" fill="none"/>
<path d="M141.64 208.2H145.44L143.54 209.8Z" stroke="#000000" stroke-width="0.9" fill="#000000"/>
<rect x="140.39" y="211.2" width="6.3" height="29.2" fill="#000"/>
<path d="M153.51 184V182.9" stroke="#3f2c1a" stroke-width="1.3" fill="none"/>
<path d="M151.61 182.9H155.41L153.51 184.5Z" stroke="#3f2c1a" stroke-width="0.9" fill="#3f2c1a"/>
<rect x="150.91" y="184.55" width="5.2" height="55.85" fill="#f5a855" stroke="#3f2c1a" stroke-width="1.1"/>
<path d="M163.49 174.6V172.6" stroke="#1d3a74" stroke-width="1.3" fill="none"/>
<path d="M161.59 172.6H165.39L163.49 174.2Z" stroke="#1d3a74" stroke-width="0.9" fill="#1d3a74"/>
<rect x="160.89" y="175.15" width="5.2" height="65.25" fill="#9dbbe3" stroke="#1d3a74" stroke-width="1.1"/>
<path d="M173.46 170.1V167.7" stroke="#c22b2d" stroke-width="1.3" fill="none"/>
<path d="M171.56 167.7H175.36L173.46 169.3Z" stroke="#c22b2d" stroke-width="0.9" fill="#c22b2d"/>
<rect x="170.86" y="170.65" width="5.2" height="69.75" fill="#f29393" stroke="#c22b2d" stroke-width="1.1"/>
<path d="M41.3 146.9V240.4H182.4" stroke="#222" stroke-width="1.2" fill="none"/>
<path d="M38.3 240.4H41.3" stroke="#222" stroke-width="1.1"/>
<text transform="translate(36.9,243.03) scale(0.95,1)" font-family='"Liberation Serif", serif' font-size="6.6" font-weight="bold" text-anchor="end" fill="#000">0</text>
<path d="M38.3 228.71H41.3" stroke="#222" stroke-width="1.1"/>
<text transform="translate(36.9,231.34) scale(0.95,1)" font-family='"Liberation Serif", serif' font-size="6.6" font-weight="bold" text-anchor="end" fill="#000">10</text>
<path d="M38.3 217.02H41.3" stroke="#222" stroke-width="1.1"/>
<text transform="translate(36.9,219.65) scale(0.95,1)" font-family='"Liberation Serif", serif' font-size="6.6" font-weight="bold" text-anchor="end" fill="#000">20</text>
<path d="M38.3 205.33H41.3" stroke="#222" stroke-width="1.1"/>
<text transform="translate(36.9,207.96) scale(0.95,1)" font-family='"Liberation Serif", serif' font-size="6.6" font-weight="bold" text-anchor="end" fill="#000">30</text>
<path d="M38.3 193.64H41.3" stroke="#222" stroke-width="1.1"/>
<text transform="translate(36.9,196.27) scale(0.95,1)" font-family='"Liberation Serif", serif' font-size="6.6" font-weight="bold" text-anchor="end" fill="#000">40</text>
<path d="M38.3 181.95H41.3" stroke="#222" stroke-width="1.1"/>
<text transform="translate(36.9,184.58) scale(0.95,1)" font-family='"Liberation Serif", serif' font-size="6.6" font-weight="bold" text-anchor="end" fill="#000">50</text>
<path d="M38.3 170.26H41.3" stroke="#222" stroke-width="1.1"/>
<text transform="translate(36.9,172.89) scale(0.95,1)" font-family='"Liberation Serif", serif' font-size="6.6" font-weight="bold" text-anchor="end" fill="#000">60</text>
<path d="M38.3 158.57H41.3" stroke="#222" stroke-width="1.1"/>
<text transform="translate(36.9,161.2) scale(0.95,1)" font-family='"Liberation Serif", serif' font-size="6.6" font-weight="bold" text-anchor="end" fill="#000">70</text>
<path d="M38.3 146.88H41.3" stroke="#222" stroke-width="1.1"/>
<text transform="translate(36.9,149.51) scale(0.95,1)" font-family='"Liberation Serif", serif' font-size="6.6" font-weight="bold" text-anchor="end" fill="#000">80</text>
<path d="M64.65 240.4V243.6" stroke="#222" stroke-width="1.1"/>
<path d="M111.6 240.4V243.6" stroke="#222" stroke-width="1.1"/>
<path d="M158.5 240.4V243.6" stroke="#222" stroke-width="1.1"/>
<path d="M46.5 170.5H59.5M46.5 168.6V172.4M59.5 168.6V172.4" stroke="#4a4a4a" stroke-width="1.15" fill="none"/>
<circle cx="48.35" cy="165.5" r="1.45" fill="#000"/>
<circle cx="53" cy="165.5" r="1.45" fill="#000"/>
<circle cx="57.65" cy="165.5" r="1.45" fill="#000"/>
<path d="M46.5 161.5H69.5M46.5 159.6V163.4M69.5 159.6V163.4" stroke="#4a4a4a" stroke-width="1.15" fill="none"/>
<circle cx="53.35" cy="156.1" r="1.45" fill="#000"/>
<circle cx="58" cy="156.1" r="1.45" fill="#000"/>
<circle cx="62.65" cy="156.1" r="1.45" fill="#000"/>
<path d="M46.5 149.5H80.5M46.5 147.6V151.4M80.5 147.6V151.4" stroke="#4a4a4a" stroke-width="1.15" fill="none"/>
<circle cx="58.85" cy="143.6" r="1.45" fill="#000"/>
<circle cx="63.5" cy="143.6" r="1.45" fill="#000"/>
<circle cx="68.15" cy="143.6" r="1.45" fill="#000"/>
<path d="M96.5 175.5H105.5M96.5 173.6V177.4M105.5 173.6V177.4" stroke="#4a4a4a" stroke-width="1.15" fill="none"/>
<circle cx="96.35" cy="170" r="1.45" fill="#000"/>
<circle cx="101" cy="170" r="1.45" fill="#000"/>
<circle cx="105.65" cy="170" r="1.45" fill="#000"/>
<path d="M96.5 161.5H116.5M96.5 159.6V163.4M116.5 159.6V163.4" stroke="#4a4a4a" stroke-width="1.15" fill="none"/>
<circle cx="101.85" cy="156.5" r="1.45" fill="#000"/>
<circle cx="106.5" cy="156.5" r="1.45" fill="#000"/>
<circle cx="111.15" cy="156.5" r="1.45" fill="#000"/>
<path d="M96.5 149.5H127.5M96.5 147.6V151.4M127.5 147.6V151.4" stroke="#4a4a4a" stroke-width="1.15" fill="none"/>
<circle cx="107.35" cy="144.6" r="1.45" fill="#000"/>
<circle cx="112" cy="144.6" r="1.45" fill="#000"/>
<circle cx="116.65" cy="144.6" r="1.45" fill="#000"/>
<path d="M140.5 174.5H152.5M140.5 172.6V176.4M152.5 172.6V176.4" stroke="#4a4a4a" stroke-width="1.15" fill="none"/>
<circle cx="141.85" cy="168.8" r="1.45" fill="#000"/>
<circle cx="146.5" cy="168.8" r="1.45" fill="#000"/>
<circle cx="151.15" cy="168.8" r="1.45" fill="#000"/>
<path d="M140.5 161.5H161.5M140.5 159.6V163.4M161.5 159.6V163.4" stroke="#4a4a4a" stroke-width="1.15" fill="none"/>
<circle cx="146.35" cy="156.5" r="1.45" fill="#000"/>
<circle cx="151" cy="156.5" r="1.45" fill="#000"/>
<circle cx="155.65" cy="156.5" r="1.45" fill="#000"/>
<path d="M140.5 149.5H173.5M140.5 147.6V151.4M173.5 147.6V151.4" stroke="#4a4a4a" stroke-width="1.15" fill="none"/>
<circle cx="152.35" cy="143.6" r="1.45" fill="#000"/>
<circle cx="157" cy="143.6" r="1.45" fill="#000"/>
<circle cx="161.65" cy="143.6" r="1.45" fill="#000"/>
<text transform="translate(23.2,193.2) rotate(-90)" font-family='"Liberation Serif", serif' font-size="9.9" font-weight="bold" text-anchor="middle" stroke="#000" stroke-width="0.2" textLength="78.9" lengthAdjust="spacingAndGlyphs">Shoot length (cm)</text>
<path d="M230.83 216.2V213.2" stroke="#000000" stroke-width="1.3" fill="none"/>
<path d="M228.93 213.2H232.73L230.83 214.8Z" stroke="#000000" stroke-width="0.9" fill="#000000"/>
<rect x="227.93" y="216.2" width="5.8" height="25.5" fill="#000"/>
<path d="M240.31 189.2V186.7" stroke="#3f2c1a" stroke-width="1.3" fill="none"/>
<path d="M238.41 186.7H242.21L240.31 188.3Z" stroke="#3f2c1a" stroke-width="0.9" fill="#3f2c1a"/>
<rect x="237.96" y="189.75" width="4.7" height="51.95" fill="#f5a855" stroke="#3f2c1a" stroke-width="1.1"/>
<path d="M249.79 181.3V177.2" stroke="#1d3a74" stroke-width="1.3" fill="none"/>
<path d="M247.89 177.2H251.69L249.79 178.8Z" stroke="#1d3a74" stroke-width="0.9" fill="#1d3a74"/>
<rect x="247.44" y="181.85" width="4.7" height="59.85" fill="#9dbbe3" stroke="#1d3a74" stroke-width="1.1"/>
<path d="M259.27 185.1V180.1" stroke="#c22b2d" stroke-width="1.3" fill="none"/>
<path d="M257.37 180.1H261.17L259.27 181.7Z" stroke="#c22b2d" stroke-width="0.9" fill="#c22b2d"/>
<rect x="256.92" y="185.65" width="4.7" height="56.05" fill="#f29393" stroke="#c22b2d" stroke-width="1.1"/>
<path d="M274.98 214.3V211" stroke="#000000" stroke-width="1.3" fill="none"/>
<path d="M273.08 211H276.88L274.98 212.6Z" stroke="#000000" stroke-width="0.9" fill="#000000"/>
<rect x="272.08" y="214.3" width="5.8" height="27.4" fill="#000"/>
<path d="M284.46 168.7V163.8" stroke="#3f2c1a" stroke-width="1.3" fill="none"/>
<path d="M282.56 163.8H286.36L284.46 165.4Z" stroke="#3f2c1a" stroke-width="0.9" fill="#3f2c1a"/>
<rect x="282.11" y="169.25" width="4.7" height="72.45" fill="#f5a855" stroke="#3f2c1a" stroke-width="1.1"/>
<path d="M293.94 186.4V182.8" stroke="#1d3a74" stroke-width="1.3" fill="none"/>
<path d="M292.04 182.8H295.84L293.94 184.4Z" stroke="#1d3a74" stroke-width="0.9" fill="#1d3a74"/>
<rect x="291.59" y="186.95" width="4.7" height="54.75" fill="#9dbbe3" stroke="#1d3a74" stroke-width="1.1"/>
<path d="M303.42 174V171.2" stroke="#c22b2d" stroke-width="1.3" fill="none"/>
<path d="M301.52 171.2H305.32L303.42 172.8Z" stroke="#c22b2d" stroke-width="0.9" fill="#c22b2d"/>
<rect x="301.07" y="174.55" width="4.7" height="67.15" fill="#f29393" stroke="#c22b2d" stroke-width="1.1"/>
<path d="M318.98 217.6V215.6" stroke="#000000" stroke-width="1.3" fill="none"/>
<path d="M317.08 215.6H320.88L318.98 217.2Z" stroke="#000000" stroke-width="0.9" fill="#000000"/>
<rect x="316.08" y="217.6" width="5.8" height="24.1" fill="#000"/>
<path d="M328.46 185.6V181.9" stroke="#3f2c1a" stroke-width="1.3" fill="none"/>
<path d="M326.56 181.9H330.36L328.46 183.5Z" stroke="#3f2c1a" stroke-width="0.9" fill="#3f2c1a"/>
<rect x="326.11" y="186.15" width="4.7" height="55.55" fill="#f5a855" stroke="#3f2c1a" stroke-width="1.1"/>
<path d="M337.94 170.9V167.6" stroke="#1d3a74" stroke-width="1.3" fill="none"/>
<path d="M336.04 167.6H339.84L337.94 169.2Z" stroke="#1d3a74" stroke-width="0.9" fill="#1d3a74"/>
<rect x="335.59" y="171.45" width="4.7" height="70.25" fill="#9dbbe3" stroke="#1d3a74" stroke-width="1.1"/>
<path d="M347.42 166.6V163.8" stroke="#c22b2d" stroke-width="1.3" fill="none"/>
<path d="M345.52 163.8H349.32L347.42 165.4Z" stroke="#c22b2d" stroke-width="0.9" fill="#c22b2d"/>
<rect x="345.07" y="167.15" width="4.7" height="74.55" fill="#f29393" stroke="#c22b2d" stroke-width="1.1"/>
<path d="M223.5 153.7V241.7H355.4" stroke="#222" stroke-width="1.2" fill="none"/>
<path d="M220.5 241.7H223.5" stroke="#222" stroke-width="1.1"/>
<text transform="translate(219.6,244.33) scale(0.95,1)" font-family='"Liberation Serif", serif' font-size="6.6" font-weight="bold" text-anchor="end" fill="#000">0</text>
<path d="M220.5 230.7H223.5" stroke="#222" stroke-width="1.1"/>
<text transform="translate(219.6,233.33) scale(0.95,1)" font-family='"Liberation Serif", serif' font-size="6.6" font-weight="bold" text-anchor="end" fill="#000">5</text>
<path d="M220.5 219.7H223.5" stroke="#222" stroke-width="1.1"/>
<text transform="translate(219.6,222.33) scale(0.95,1)" font-family='"Liberation Serif", serif' font-size="6.6" font-weight="bold" text-anchor="end" fill="#000">10</text>
<path d="M220.5 208.7H223.5" stroke="#222" stroke-width="1.1"/>
<text transform="translate(219.6,211.33) scale(0.95,1)" font-family='"Liberation Serif", serif' font-size="6.6" font-weight="bold" text-anchor="end" fill="#000">15</text>
<path d="M220.5 197.7H223.5" stroke="#222" stroke-width="1.1"/>
<text transform="translate(219.6,200.33) scale(0.95,1)" font-family='"Liberation Serif", serif' font-size="6.6" font-weight="bold" text-anchor="end" fill="#000">20</text>
<path d="M220.5 186.7H223.5" stroke="#222" stroke-width="1.1"/>
<text transform="translate(219.6,189.33) scale(0.95,1)" font-family='"Liberation Serif", serif' font-size="6.6" font-weight="bold" text-anchor="end" fill="#000">25</text>
<path d="M220.5 175.7H223.5" stroke="#222" stroke-width="1.1"/>
<text transform="translate(219.6,178.33) scale(0.95,1)" font-family='"Liberation Serif", serif' font-size="6.6" font-weight="bold" text-anchor="end" fill="#000">30</text>
<path d="M220.5 164.7H223.5" stroke="#222" stroke-width="1.1"/>
<text transform="translate(219.6,167.33) scale(0.95,1)" font-family='"Liberation Serif", serif' font-size="6.6" font-weight="bold" text-anchor="end" fill="#000">35</text>
<path d="M220.5 153.7H223.5" stroke="#222" stroke-width="1.1"/>
<text transform="translate(219.6,156.33) scale(0.95,1)" font-family='"Liberation Serif", serif' font-size="6.6" font-weight="bold" text-anchor="end" fill="#000">40</text>
<path d="M245.05 241.7V244.9" stroke="#222" stroke-width="1.1"/>
<path d="M289.2 241.7V244.9" stroke="#222" stroke-width="1.1"/>
<path d="M333.2 241.7V244.9" stroke="#222" stroke-width="1.1"/>
<path d="M227.5 181.5H240.5M227.5 179.6V183.4M240.5 179.6V183.4" stroke="#4a4a4a" stroke-width="1.15" fill="none"/>
<circle cx="229.6" cy="176.7" r="1.45" fill="#000"/>
<circle cx="234" cy="176.7" r="1.45" fill="#000"/>
<circle cx="238.4" cy="176.7" r="1.45" fill="#000"/>
<path d="M227.5 171.5H249.5M227.5 169.6V173.4M249.5 169.6V173.4" stroke="#4a4a4a" stroke-width="1.15" fill="none"/>
<circle cx="234.1" cy="166.9" r="1.45" fill="#000"/>
<circle cx="238.5" cy="166.9" r="1.45" fill="#000"/>
<circle cx="242.9" cy="166.9" r="1.45" fill="#000"/>
<path d="M227.5 162.5H259.5M227.5 160.6V164.4M259.5 160.6V164.4" stroke="#4a4a4a" stroke-width="1.15" fill="none"/>
<circle cx="239.1" cy="157.3" r="1.45" fill="#000"/>
<circle cx="243.5" cy="157.3" r="1.45" fill="#000"/>
<circle cx="247.9" cy="157.3" r="1.45" fill="#000"/>
<path d="M267.5 157.5H284.5M267.5 155.6V159.4M284.5 155.6V159.4" stroke="#4a4a4a" stroke-width="1.15" fill="none"/>
<circle cx="271.6" cy="152.2" r="1.45" fill="#000"/>
<circle cx="276" cy="152.2" r="1.45" fill="#000"/>
<circle cx="280.4" cy="152.2" r="1.45" fill="#000"/>
<path d="M267.5 148.5H294.5M267.5 146.6V150.4M294.5 146.6V150.4" stroke="#4a4a4a" stroke-width="1.15" fill="none"/>
<circle cx="276.6" cy="144" r="1.45" fill="#000"/>
<circle cx="281" cy="144" r="1.45" fill="#000"/>
<circle cx="285.4" cy="144" r="1.45" fill="#000"/>
<path d="M267.5 137.5H303.5M267.5 135.6V139.4M303.5 135.6V139.4" stroke="#4a4a4a" stroke-width="1.15" fill="none"/>
<circle cx="281.1" cy="132.9" r="1.45" fill="#000"/>
<circle cx="285.5" cy="132.9" r="1.45" fill="#000"/>
<circle cx="289.9" cy="132.9" r="1.45" fill="#000"/>
<path d="M318.5 172.5H327.5M318.5 170.6V174.4M327.5 170.6V174.4" stroke="#4a4a4a" stroke-width="1.15" fill="none"/>
<circle cx="318.6" cy="168.2" r="1.45" fill="#000"/>
<circle cx="323" cy="168.2" r="1.45" fill="#000"/>
<circle cx="327.4" cy="168.2" r="1.45" fill="#000"/>
<path d="M316.5 160.5H337.5M316.5 158.6V162.4M337.5 158.6V162.4" stroke="#4a4a4a" stroke-width="1.15" fill="none"/>
<circle cx="322.6" cy="155" r="1.45" fill="#000"/>
<circle cx="327" cy="155" r="1.45" fill="#000"/>
<circle cx="331.4" cy="155" r="1.45" fill="#000"/>
<path d="M316.5 147.5H347.5M316.5 145.6V149.4M347.5 145.6V149.4" stroke="#4a4a4a" stroke-width="1.15" fill="none"/>
<circle cx="327.6" cy="143.2" r="1.45" fill="#000"/>
<circle cx="332" cy="143.2" r="1.45" fill="#000"/>
<circle cx="336.4" cy="143.2" r="1.45" fill="#000"/>
<text transform="translate(206.1,196.8) rotate(-90)" font-family='"Liberation Serif", serif' font-size="9.9" font-weight="bold" text-anchor="middle" stroke="#000" stroke-width="0.2" textLength="75.5" lengthAdjust="spacingAndGlyphs">Root Length (cm)</text>
<path d="M414.69 218.1V216.4" stroke="#000000" stroke-width="1.3" fill="none"/>
<path d="M412.8 216.4H416.59L414.69 218Z" stroke="#000000" stroke-width="0.9" fill="#000000"/>
<rect x="411.39" y="218.1" width="6.6" height="21.8" fill="#000"/>
<path d="M425.37 173.4V166" stroke="#3f2c1a" stroke-width="1.3" fill="none"/>
<path d="M423.47 166H427.26L425.37 167.6Z" stroke="#3f2c1a" stroke-width="0.9" fill="#3f2c1a"/>
<rect x="422.62" y="173.95" width="5.5" height="65.95" fill="#f5a855" stroke="#3f2c1a" stroke-width="1.1"/>
<path d="M436.03 200.7V197.4" stroke="#1d3a74" stroke-width="1.3" fill="none"/>
<path d="M434.13 197.4H437.93L436.03 199Z" stroke="#1d3a74" stroke-width="0.9" fill="#1d3a74"/>
<rect x="433.28" y="201.25" width="5.5" height="38.65" fill="#9dbbe3" stroke="#1d3a74" stroke-width="1.1"/>
<path d="M446.7 181.2V176.6" stroke="#c22b2d" stroke-width="1.3" fill="none"/>
<path d="M444.81 176.6H448.6L446.7 178.2Z" stroke="#c22b2d" stroke-width="0.9" fill="#c22b2d"/>
<rect x="443.95" y="181.75" width="5.5" height="58.15" fill="#f29393" stroke="#c22b2d" stroke-width="1.1"/>
<path d="M464.39 215.9V213.6" stroke="#000000" stroke-width="1.3" fill="none"/>
<path d="M462.5 213.6H466.29L464.39 215.2Z" stroke="#000000" stroke-width="0.9" fill="#000000"/>
<rect x="461.09" y="215.9" width="6.6" height="24" fill="#000"/>
<path d="M475.06 183.3V177.8" stroke="#3f2c1a" stroke-width="1.3" fill="none"/>
<path d="M473.17 177.8H476.96L475.06 179.4Z" stroke="#3f2c1a" stroke-width="0.9" fill="#3f2c1a"/>
<rect x="472.31" y="183.85" width="5.5" height="56.05" fill="#f5a855" stroke="#3f2c1a" stroke-width="1.1"/>
<path d="M485.73 185.7V180.3" stroke="#1d3a74" stroke-width="1.3" fill="none"/>
<path d="M483.83 180.3H487.63L485.73 181.9Z" stroke="#1d3a74" stroke-width="0.9" fill="#1d3a74"/>
<rect x="482.98" y="186.25" width="5.5" height="53.65" fill="#9dbbe3" stroke="#1d3a74" stroke-width="1.1"/>
<path d="M496.4 185.2V180" stroke="#c22b2d" stroke-width="1.3" fill="none"/>
<path d="M494.5 180H498.3L496.4 181.6Z" stroke="#c22b2d" stroke-width="0.9" fill="#c22b2d"/>
<rect x="493.65" y="185.75" width="5.5" height="54.15" fill="#f29393" stroke="#c22b2d" stroke-width="1.1"/>
<path d="M514.6 220.5V213.9" stroke="#000000" stroke-width="1.3" fill="none"/>
<path d="M512.7 213.9H516.5L514.6 215.5Z" stroke="#000000" stroke-width="0.9" fill="#000000"/>
<rect x="511.3" y="220.5" width="6.6" height="19.4" fill="#000"/>
<path d="M525.26 181.6V177.8" stroke="#3f2c1a" stroke-width="1.3" fill="none"/>
<path d="M523.37 177.8H527.16L525.26 179.4Z" stroke="#3f2c1a" stroke-width="0.9" fill="#3f2c1a"/>
<rect x="522.51" y="182.15" width="5.5" height="57.75" fill="#f5a855" stroke="#3f2c1a" stroke-width="1.1"/>
<path d="M535.94 172.9V171.5" stroke="#1d3a74" stroke-width="1.3" fill="none"/>
<path d="M534.04 171.5H537.84L535.94 173.1Z" stroke="#1d3a74" stroke-width="0.9" fill="#1d3a74"/>
<rect x="533.19" y="173.45" width="5.5" height="66.45" fill="#9dbbe3" stroke="#1d3a74" stroke-width="1.1"/>
<path d="M546.61 168.7V164.3" stroke="#c22b2d" stroke-width="1.3" fill="none"/>
<path d="M544.71 164.3H548.5L546.61 165.9Z" stroke="#c22b2d" stroke-width="0.9" fill="#c22b2d"/>
<rect x="543.86" y="169.25" width="5.5" height="70.65" fill="#f29393" stroke="#c22b2d" stroke-width="1.1"/>
<path d="M405.6 140.4V239.9H556.5" stroke="#222" stroke-width="1.2" fill="none"/>
<path d="M402.6 239.9H405.6" stroke="#222" stroke-width="1.1"/>
<text transform="translate(401.2,242.77) scale(0.96,1)" font-family='"Liberation Serif", serif' font-size="7.3" font-weight="bold" text-anchor="end" fill="#000">0</text>
<path d="M402.6 227.46H405.6" stroke="#222" stroke-width="1.1"/>
<text transform="translate(401.2,230.33) scale(0.96,1)" font-family='"Liberation Serif", serif' font-size="7.3" font-weight="bold" text-anchor="end" fill="#000">5</text>
<path d="M402.6 215.02H405.6" stroke="#222" stroke-width="1.1"/>
<text transform="translate(401.2,217.89) scale(0.96,1)" font-family='"Liberation Serif", serif' font-size="7.3" font-weight="bold" text-anchor="end" fill="#000">10</text>
<path d="M402.6 202.58H405.6" stroke="#222" stroke-width="1.1"/>
<text transform="translate(401.2,205.45) scale(0.96,1)" font-family='"Liberation Serif", serif' font-size="7.3" font-weight="bold" text-anchor="end" fill="#000">15</text>
<path d="M402.6 190.14H405.6" stroke="#222" stroke-width="1.1"/>
<text transform="translate(401.2,193.01) scale(0.96,1)" font-family='"Liberation Serif", serif' font-size="7.3" font-weight="bold" text-anchor="end" fill="#000">20</text>
<path d="M402.6 177.7H405.6" stroke="#222" stroke-width="1.1"/>
<text transform="translate(401.2,180.57) scale(0.96,1)" font-family='"Liberation Serif", serif' font-size="7.3" font-weight="bold" text-anchor="end" fill="#000">25</text>
<path d="M402.6 165.26H405.6" stroke="#222" stroke-width="1.1"/>
<text transform="translate(401.2,168.13) scale(0.96,1)" font-family='"Liberation Serif", serif' font-size="7.3" font-weight="bold" text-anchor="end" fill="#000">30</text>
<path d="M402.6 152.82H405.6" stroke="#222" stroke-width="1.1"/>
<text transform="translate(401.2,155.69) scale(0.96,1)" font-family='"Liberation Serif", serif' font-size="7.3" font-weight="bold" text-anchor="end" fill="#000">35</text>
<path d="M402.6 140.38H405.6" stroke="#222" stroke-width="1.1"/>
<text transform="translate(401.2,143.25) scale(0.96,1)" font-family='"Liberation Serif", serif' font-size="7.3" font-weight="bold" text-anchor="end" fill="#000">40</text>
<path d="M430.7 239.9V243.1" stroke="#222" stroke-width="1.1"/>
<path d="M480.4 239.9V243.1" stroke="#222" stroke-width="1.1"/>
<path d="M530.6 239.9V243.1" stroke="#222" stroke-width="1.1"/>
<path d="M411.5 160.5H425.5M411.5 158.6V162.4M425.5 158.6V162.4" stroke="#4a4a4a" stroke-width="1.15" fill="none"/>
<circle cx="412.9" cy="155.1" r="1.45" fill="#000"/>
<circle cx="418.5" cy="155.1" r="1.45" fill="#000"/>
<circle cx="424.1" cy="155.1" r="1.45" fill="#000"/>
<path d="M411.5 148.5H436.5M411.5 146.6V150.4M436.5 146.6V150.4" stroke="#4a4a4a" stroke-width="1.15" fill="none"/>
<circle cx="418.4" cy="143.2" r="1.45" fill="#000"/>
<circle cx="424" cy="143.2" r="1.45" fill="#000"/>
<circle cx="429.6" cy="143.2" r="1.45" fill="#000"/>
<path d="M411.5 140.5H444.5M411.5 138.6V142.4M444.5 138.6V142.4" stroke="#4a4a4a" stroke-width="1.15" fill="none"/>
<circle cx="422.4" cy="135" r="1.45" fill="#000"/>
<circle cx="428" cy="135" r="1.45" fill="#000"/>
<circle cx="433.6" cy="135" r="1.45" fill="#000"/>
<path d="M459.5 171.5H475.5M459.5 169.6V173.4M475.5 169.6V173.4" stroke="#4a4a4a" stroke-width="1.15" fill="none"/>
<circle cx="461.9" cy="165.4" r="1.45" fill="#000"/>
<circle cx="467.5" cy="165.4" r="1.45" fill="#000"/>
<circle cx="473.1" cy="165.4" r="1.45" fill="#000"/>
<path d="M459.5 157.5H483.5M459.5 155.6V159.4M483.5 155.6V159.4" stroke="#4a4a4a" stroke-width="1.15" fill="none"/>
<circle cx="468.7" cy="152.2" r="1.45" fill="#000"/>
<circle cx="474.3" cy="152.2" r="1.45" fill="#000"/>
<path d="M459.5 149.5H496.5M459.5 147.6V151.4M496.5 147.6V151.4" stroke="#4a4a4a" stroke-width="1.15" fill="none"/>
<circle cx="472.4" cy="142.7" r="1.45" fill="#000"/>
<circle cx="478" cy="142.7" r="1.45" fill="#000"/>
<circle cx="483.6" cy="142.7" r="1.45" fill="#000"/>
<path d="M510.5 172.5H525.5M510.5 170.6V174.4M525.5 170.6V174.4" stroke="#4a4a4a" stroke-width="1.15" fill="none"/>
<circle cx="512.4" cy="166.6" r="1.45" fill="#000"/>
<circle cx="518" cy="166.6" r="1.45" fill="#000"/>
<circle cx="523.6" cy="166.6" r="1.45" fill="#000"/>
<path d="M510.5 160.5H533.5M510.5 158.6V162.4M533.5 158.6V162.4" stroke="#4a4a4a" stroke-width="1.15" fill="none"/>
<circle cx="516.4" cy="155" r="1.45" fill="#000"/>
<circle cx="522" cy="155" r="1.45" fill="#000"/>
<circle cx="527.6" cy="155" r="1.45" fill="#000"/>
<path d="M510.5 148.5H546.5M510.5 146.6V150.4M546.5 146.6V150.4" stroke="#4a4a4a" stroke-width="1.15" fill="none"/>
<circle cx="522.9" cy="141.8" r="1.45" fill="#000"/>
<circle cx="528.5" cy="141.8" r="1.45" fill="#000"/>
<circle cx="534.1" cy="141.8" r="1.45" fill="#000"/>
<text transform="translate(388.1,189.5) rotate(-90)" font-family='"Liberation Serif", serif' font-size="11.2" font-weight="bold" text-anchor="middle" stroke="#000" stroke-width="0.2" textLength="60.2" lengthAdjust="spacingAndGlyphs">No. of leaves</text>
<text transform="translate(67.55,249.7) scale(0.92,1) rotate(-45)" font-family='"Liberation Serif", serif' font-size="8.1" font-weight="bold" text-anchor="end">TV22</text>
<text transform="translate(114.5,249.7) scale(0.92,1) rotate(-45)" font-family='"Liberation Serif", serif' font-size="8.1" font-weight="bold" text-anchor="end">TV26</text>
<text transform="translate(161.4,249.7) scale(0.92,1) rotate(-45)" font-family='"Liberation Serif", serif' font-size="8.1" font-weight="bold" text-anchor="end">TV9</text>
<text transform="translate(247.95,249.7) scale(0.92,1) rotate(-45)" font-family='"Liberation Serif", serif' font-size="8.1" font-weight="bold" text-anchor="end">TV22</text>
<text transform="translate(292.1,249.7) scale(0.92,1) rotate(-45)" font-family='"Liberation Serif", serif' font-size="8.1" font-weight="bold" text-anchor="end">TV26</text>
<text transform="translate(336.1,249.7) scale(0.92,1) rotate(-45)" font-family='"Liberation Serif", serif' font-size="8.1" font-weight="bold" text-anchor="end">TV9</text>
<text transform="translate(433.6,249.7) scale(0.92,1) rotate(-45)" font-family='"Liberation Serif", serif' font-size="8.1" font-weight="bold" text-anchor="end">TV22</text>
<text transform="translate(483.3,249.7) scale(0.92,1) rotate(-45)" font-family='"Liberation Serif", serif' font-size="8.1" font-weight="bold" text-anchor="end">TV26</text>
<text transform="translate(533.5,249.7) scale(0.92,1) rotate(-45)" font-family='"Liberation Serif", serif' font-size="8.1" font-weight="bold" text-anchor="end">TV9</text>
<rect x="606.8" y="148.8" width="18.2" height="8.4" fill="#000"/>
<text x="635.4" y="158.2" font-family='"Liberation Serif", serif' font-size="15.6" stroke="#000" stroke-width="0.3" textLength="46.5" lengthAdjust="spacingAndGlyphs">Control</text>
<rect x="607.6" y="173.6" width="16.6" height="6.4" fill="#f5a855" stroke="#3f2c1a" stroke-width="1.6"/>
<text x="635.4" y="182" font-family='"Liberation Serif", serif' font-size="15.6" stroke="#000" stroke-width="0.3" textLength="14.4" lengthAdjust="spacingAndGlyphs">T1</text>
<rect x="607.6" y="197.5" width="16.6" height="6.4" fill="#9dbbe3" stroke="#1d3a74" stroke-width="1.6"/>
<text x="635.4" y="205.6" font-family='"Liberation Serif", serif' font-size="15.6" stroke="#000" stroke-width="0.3" textLength="15.0" lengthAdjust="spacingAndGlyphs">T2</text>
<rect x="607.6" y="220.9" width="16.6" height="6.4" fill="#f29393" stroke="#c22b2d" stroke-width="1.6"/>
<text x="635.4" y="229" font-family='"Liberation Serif", serif' font-size="15.6" stroke="#000" stroke-width="0.3" textLength="15.0" lengthAdjust="spacingAndGlyphs">T3</text>
<rect x="106.97" y="364.8" width="7.9" height="45.2" fill="#006400"/>
<path d="M110.92 360.2V369.4M109.32 360.2H112.52M109.32 369.4H112.52" stroke="#111" stroke-width="0.9" fill="none"/>
<rect x="118.82" y="326.2" width="7.9" height="83.8" fill="#0f9a5c"/>
<path d="M122.77 325.5V326.9M121.17 325.5H124.37M121.17 326.9H124.37" stroke="#111" stroke-width="0.9" fill="none"/>
<rect x="130.68" y="327" width="7.9" height="83" fill="#17c87a"/>
<path d="M134.62 326.6V327.4M133.03 326.6H136.22M133.03 327.4H136.22" stroke="#111" stroke-width="0.9" fill="none"/>
<rect x="142.53" y="326.5" width="7.9" height="83.5" fill="#a0f7a0"/>
<path d="M146.47 326.1V326.9M144.88 326.1H148.07M144.88 326.9H148.07" stroke="#111" stroke-width="0.9" fill="none"/>
<rect x="162.58" y="346" width="7.9" height="64" fill="#006400"/>
<path d="M166.53 341.3V350.7M164.93 341.3H168.12M164.93 350.7H168.12" stroke="#111" stroke-width="0.9" fill="none"/>
<rect x="174.43" y="334" width="7.9" height="76" fill="#0f9a5c"/>
<path d="M178.38 332.8V335.2M176.78 332.8H179.97M176.78 335.2H179.97" stroke="#111" stroke-width="0.9" fill="none"/>
<rect x="186.28" y="333.1" width="7.9" height="76.9" fill="#17c87a"/>
<path d="M190.23 332.7V333.5M188.63 332.7H191.83M188.63 333.5H191.83" stroke="#111" stroke-width="0.9" fill="none"/>
<rect x="198.13" y="332" width="7.9" height="78" fill="#a0f7a0"/>
<path d="M202.08 331V333M200.48 331H203.68M200.48 333H203.68" stroke="#111" stroke-width="0.9" fill="none"/>
<rect x="217.97" y="362.8" width="7.9" height="47.2" fill="#006400"/>
<path d="M221.92 361.9V363.7M220.32 361.9H223.52M220.32 363.7H223.52" stroke="#111" stroke-width="0.9" fill="none"/>
<rect x="229.82" y="334.3" width="7.9" height="75.7" fill="#0f9a5c"/>
<path d="M233.77 334V334.6M232.17 334H235.37M232.17 334.6H235.37" stroke="#111" stroke-width="0.9" fill="none"/>
<rect x="241.68" y="342.2" width="7.9" height="67.8" fill="#17c87a"/>
<path d="M245.62 339.4V345M244.03 339.4H247.22M244.03 345H247.22" stroke="#111" stroke-width="0.9" fill="none"/>
<rect x="253.52" y="316.7" width="7.9" height="93.3" fill="#a0f7a0"/>
<path d="M257.47 312.2V321.3M255.87 312.2H259.07M255.87 321.3H259.07" stroke="#111" stroke-width="0.9" fill="none"/>
<path d="M103 296.5V410H265.5" stroke="#222" stroke-width="1.2" fill="none"/>
<path d="M99.5 410H103" stroke="#222" stroke-width="1.1"/>
<text transform="translate(96.4,413.04) scale(0.86,1)" font-family='"Liberation Serif", serif' font-size="9" font-weight="bold" text-anchor="end" fill="#000">0.0</text>
<path d="M99.5 381.65H103" stroke="#222" stroke-width="1.1"/>
<text transform="translate(96.4,384.69) scale(0.86,1)" font-family='"Liberation Serif", serif' font-size="9" font-weight="bold" text-anchor="end" fill="#000">0.5</text>
<path d="M99.5 353.3H103" stroke="#222" stroke-width="1.1"/>
<text transform="translate(96.4,356.34) scale(0.86,1)" font-family='"Liberation Serif", serif' font-size="9" font-weight="bold" text-anchor="end" fill="#000">1.0</text>
<path d="M99.5 324.95H103" stroke="#222" stroke-width="1.1"/>
<text transform="translate(96.4,327.99) scale(0.86,1)" font-family='"Liberation Serif", serif' font-size="9" font-weight="bold" text-anchor="end" fill="#000">1.5</text>
<path d="M99.5 296.6H103" stroke="#222" stroke-width="1.1"/>
<text transform="translate(96.4,299.64) scale(0.86,1)" font-family='"Liberation Serif", serif' font-size="9" font-weight="bold" text-anchor="end" fill="#000">2.0</text>
<path d="M128.7 410V413.5" stroke="#222" stroke-width="1.1"/>
<text transform="translate(128.7,425) scale(0.76,1)" font-family='"Liberation Serif", serif' font-size="11" font-weight="bold" text-anchor="middle" fill="#000">TV9</text>
<path d="M184.3 410V413.5" stroke="#222" stroke-width="1.1"/>
<text transform="translate(184.3,425) scale(0.76,1)" font-family='"Liberation Serif", serif' font-size="11" font-weight="bold" text-anchor="middle" fill="#000">TV22</text>
<path d="M239.7 410V413.5" stroke="#222" stroke-width="1.1"/>
<text transform="translate(239.7,425) scale(0.76,1)" font-family='"Liberation Serif", serif' font-size="11" font-weight="bold" text-anchor="middle" fill="#000">TV26</text>
<path d="M109.5 319.5H123.5M109.5 317.25V321.75M123.5 317.25V321.75" stroke="#3a3a3a" stroke-width="1.1" fill="none"/>
<circle cx="111.4" cy="314.2" r="1.4" fill="#000"/>
<circle cx="116.5" cy="314.2" r="1.4" fill="#000"/>
<circle cx="121.6" cy="314.2" r="1.4" fill="#000"/>
<path d="M109.5 305.5H133.5M109.5 303.25V307.75M133.5 303.25V307.75" stroke="#3a3a3a" stroke-width="1.1" fill="none"/>
<circle cx="116.4" cy="299.5" r="1.4" fill="#000"/>
<circle cx="121.5" cy="299.5" r="1.4" fill="#000"/>
<circle cx="126.6" cy="299.5" r="1.4" fill="#000"/>
<path d="M109.5 291.5H145.5M109.5 289.25V293.75M145.5 289.25V293.75" stroke="#3a3a3a" stroke-width="1.1" fill="none"/>
<circle cx="122.4" cy="286.9" r="1.4" fill="#000"/>
<circle cx="127.5" cy="286.9" r="1.4" fill="#000"/>
<circle cx="132.6" cy="286.9" r="1.4" fill="#000"/>
<path d="M163.5 323.5H178.5M163.5 321.25V325.75M178.5 321.25V325.75" stroke="#3a3a3a" stroke-width="1.1" fill="none"/>
<circle cx="165.9" cy="317.5" r="1.4" fill="#000"/>
<circle cx="171" cy="317.5" r="1.4" fill="#000"/>
<circle cx="176.1" cy="317.5" r="1.4" fill="#000"/>
<path d="M163.5 310.5H187.5M163.5 308.25V312.75M187.5 308.25V312.75" stroke="#3a3a3a" stroke-width="1.1" fill="none"/>
<circle cx="170.4" cy="304.8" r="1.4" fill="#000"/>
<circle cx="175.5" cy="304.8" r="1.4" fill="#000"/>
<circle cx="180.6" cy="304.8" r="1.4" fill="#000"/>
<path d="M163.5 296.5H200.5M163.5 294.25V298.75M200.5 294.25V298.75" stroke="#3a3a3a" stroke-width="1.1" fill="none"/>
<circle cx="176.9" cy="290.2" r="1.4" fill="#000"/>
<circle cx="182" cy="290.2" r="1.4" fill="#000"/>
<circle cx="187.1" cy="290.2" r="1.4" fill="#000"/>
<path d="M215.5 322.5H231.5M215.5 320.25V324.75M231.5 320.25V324.75" stroke="#3a3a3a" stroke-width="1.1" fill="none"/>
<circle cx="218.4" cy="316.7" r="1.4" fill="#000"/>
<circle cx="223.5" cy="316.7" r="1.4" fill="#000"/>
<circle cx="228.6" cy="316.7" r="1.4" fill="#000"/>
<path d="M215.5 305.5H242.5M215.5 303.25V307.75M242.5 303.25V307.75" stroke="#3a3a3a" stroke-width="1.1" fill="none"/>
<circle cx="223.9" cy="300.6" r="1.4" fill="#000"/>
<circle cx="229" cy="300.6" r="1.4" fill="#000"/>
<circle cx="234.1" cy="300.6" r="1.4" fill="#000"/>
<path d="M215.5 291.5H254.5M215.5 289.25V293.75M254.5 289.25V293.75" stroke="#3a3a3a" stroke-width="1.1" fill="none"/>
<circle cx="229.9" cy="286.3" r="1.4" fill="#000"/>
<circle cx="235" cy="286.3" r="1.4" fill="#000"/>
<circle cx="240.1" cy="286.3" r="1.4" fill="#000"/>
<text transform="translate(80.9,353) rotate(-90)" font-family='"Liberation Serif", serif' font-size="9.8" font-weight="bold" text-anchor="middle" stroke="#000" stroke-width="0.2" textLength="45.9" lengthAdjust="spacingAndGlyphs">Chla (mg/g)</text>
<rect x="357.48" y="359.8" width="8" height="48" fill="#0a6438"/>
<path d="M361.48 357.4V362.2M359.88 357.4H363.08M359.88 362.2H363.08" stroke="#111" stroke-width="0.9" fill="none"/>
<rect x="369.32" y="324.3" width="8" height="83.5" fill="#0e9155"/>
<path d="M373.32 319.6V328.7M371.72 319.6H374.93M371.72 328.7H374.93" stroke="#111" stroke-width="0.9" fill="none"/>
<rect x="381.18" y="351.5" width="8" height="56.3" fill="#12c470"/>
<path d="M385.18 349.9V353.1M383.57 349.9H386.78M383.57 353.1H386.78" stroke="#111" stroke-width="0.9" fill="none"/>
<rect x="393.02" y="337.8" width="8" height="70" fill="#a2f5a2"/>
<path d="M397.02 333.7V342.4M395.42 333.7H398.62M395.42 342.4H398.62" stroke="#111" stroke-width="0.9" fill="none"/>
<rect x="412.98" y="368.9" width="8" height="38.9" fill="#0a6438"/>
<path d="M416.98 368.5V369.3M415.38 368.5H418.58M415.38 369.3H418.58" stroke="#111" stroke-width="0.9" fill="none"/>
<rect x="424.82" y="359" width="8" height="48.8" fill="#0e9155"/>
<path d="M428.82 358.6V359.4M427.22 358.6H430.43M427.22 359.4H430.43" stroke="#111" stroke-width="0.9" fill="none"/>
<rect x="436.68" y="362" width="8" height="45.8" fill="#12c470"/>
<path d="M440.68 357.4V366.5M439.07 357.4H442.28M439.07 366.5H442.28" stroke="#111" stroke-width="0.9" fill="none"/>
<rect x="448.52" y="364" width="8" height="43.8" fill="#a2f5a2"/>
<path d="M452.52 362.3V365.3M450.92 362.3H454.12M450.92 365.3H454.12" stroke="#111" stroke-width="0.9" fill="none"/>
<rect x="468.53" y="376.2" width="8" height="31.6" fill="#0a6438"/>
<path d="M472.53 375.3V377.1M470.93 375.3H474.13M470.93 377.1H474.13" stroke="#111" stroke-width="0.9" fill="none"/>
<rect x="480.38" y="364.4" width="8" height="43.4" fill="#0e9155"/>
<path d="M484.38 364.1V364.7M482.77 364.1H485.98M482.77 364.7H485.98" stroke="#111" stroke-width="0.9" fill="none"/>
<rect x="492.23" y="379.3" width="8" height="28.5" fill="#12c470"/>
<path d="M496.23 377.4V381.2M494.62 377.4H497.83M494.62 381.2H497.83" stroke="#111" stroke-width="0.9" fill="none"/>
<rect x="504.07" y="388.7" width="8" height="19.1" fill="#a2f5a2"/>
<path d="M508.07 387.5V389.9M506.47 387.5H509.68M506.47 389.9H509.68" stroke="#111" stroke-width="0.9" fill="none"/>
<path d="M353.2 293.7V407.8H516.9" stroke="#222" stroke-width="1.2" fill="none"/>
<path d="M349.7 407.8H353.2" stroke="#222" stroke-width="1.1"/>
<text transform="translate(346.8,410.64) scale(0.9,1)" font-family='"Liberation Serif", serif' font-size="8.4" font-weight="bold" text-anchor="end" fill="#000">0.0</text>
<path d="M349.7 369.76H353.2" stroke="#222" stroke-width="1.1"/>
<text transform="translate(346.8,372.6) scale(0.9,1)" font-family='"Liberation Serif", serif' font-size="8.4" font-weight="bold" text-anchor="end" fill="#000">0.5</text>
<path d="M349.7 331.73H353.2" stroke="#222" stroke-width="1.1"/>
<text transform="translate(346.8,334.57) scale(0.9,1)" font-family='"Liberation Serif", serif' font-size="8.4" font-weight="bold" text-anchor="end" fill="#000">1.0</text>
<path d="M349.7 293.7H353.2" stroke="#222" stroke-width="1.1"/>
<text transform="translate(346.8,296.53) scale(0.9,1)" font-family='"Liberation Serif", serif' font-size="8.4" font-weight="bold" text-anchor="end" fill="#000">1.5</text>
<path d="M379.25 407.8V411.3" stroke="#222" stroke-width="1.1"/>
<text transform="translate(379.25,422.2) scale(0.85,1)" font-family='"Liberation Serif", serif' font-size="9.6" font-weight="bold" text-anchor="middle" fill="#000">TV9</text>
<path d="M434.75 407.8V411.3" stroke="#222" stroke-width="1.1"/>
<text transform="translate(434.75,422.2) scale(0.85,1)" font-family='"Liberation Serif", serif' font-size="9.6" font-weight="bold" text-anchor="middle" fill="#000">TV22</text>
<path d="M490.3 407.8V411.3" stroke="#222" stroke-width="1.1"/>
<text transform="translate(490.3,422.2) scale(0.85,1)" font-family='"Liberation Serif", serif' font-size="9.6" font-weight="bold" text-anchor="middle" fill="#000">TV26</text>
<path d="M358.5 315.5H370.5M358.5 313.25V317.75M370.5 313.25V317.75" stroke="#3a3a3a" stroke-width="1.1" fill="none"/>
<circle cx="359.4" cy="310" r="1.4" fill="#000"/>
<circle cx="364.5" cy="310" r="1.4" fill="#000"/>
<circle cx="369.6" cy="310" r="1.4" fill="#000"/>
<path d="M358.5 300.5H383.5M358.5 298.25V302.75M383.5 298.25V302.75" stroke="#3a3a3a" stroke-width="1.1" fill="none"/>
<circle cx="368.45" cy="295.2" r="1.4" fill="#000"/>
<circle cx="373.55" cy="295.2" r="1.4" fill="#000"/>
<path d="M358.5 289.5H393.5M358.5 287.25V291.75M393.5 287.25V291.75" stroke="#3a3a3a" stroke-width="1.1" fill="none"/>
<circle cx="370.9" cy="283.6" r="1.4" fill="#000"/>
<circle cx="376" cy="283.6" r="1.4" fill="#000"/>
<circle cx="381.1" cy="283.6" r="1.4" fill="#000"/>
<path d="M415.5 352.5H427.5M415.5 350.25V354.75M427.5 350.25V354.75" stroke="#3a3a3a" stroke-width="1.1" fill="none"/>
<circle cx="416.4" cy="346.3" r="1.4" fill="#000"/>
<circle cx="421.5" cy="346.3" r="1.4" fill="#000"/>
<circle cx="426.6" cy="346.3" r="1.4" fill="#000"/>
<path d="M414.5 338.5H439.5M414.5 336.25V340.75M439.5 336.25V340.75" stroke="#3a3a3a" stroke-width="1.1" fill="none"/>
<circle cx="427" cy="332" r="1.4" fill="#000"/>
<path d="M414.5 326.5H450.5M414.5 324.25V328.75M450.5 324.25V328.75" stroke="#3a3a3a" stroke-width="1.1" fill="none"/>
<text transform="translate(432.5,320.8) scale(0.85,1)" font-family='"Liberation Serif", serif' font-size="8.2" font-weight="bold" text-anchor="middle" fill="#000">ns</text>
<path d="M470.5 358.5H482.5M470.5 356.25V360.75M482.5 356.25V360.75" stroke="#3a3a3a" stroke-width="1.1" fill="none"/>
<circle cx="471.4" cy="352.6" r="1.4" fill="#000"/>
<circle cx="476.5" cy="352.6" r="1.4" fill="#000"/>
<circle cx="481.6" cy="352.6" r="1.4" fill="#000"/>
<path d="M470.5 341.5H493.5M470.5 339.25V343.75M493.5 339.25V343.75" stroke="#3a3a3a" stroke-width="1.1" fill="none"/>
<text transform="translate(482,336.9) scale(0.85,1)" font-family='"Liberation Serif", serif' font-size="8.2" font-weight="bold" text-anchor="middle" fill="#000">ns</text>
<path d="M470.5 328.5H505.5M470.5 326.25V330.75M505.5 326.25V330.75" stroke="#3a3a3a" stroke-width="1.1" fill="none"/>
<circle cx="482.9" cy="322.4" r="1.4" fill="#000"/>
<circle cx="488" cy="322.4" r="1.4" fill="#000"/>
<circle cx="493.1" cy="322.4" r="1.4" fill="#000"/>
<text transform="translate(330.9,349.1) rotate(-90)" font-family='"Liberation Serif", serif' font-size="9" font-weight="bold" text-anchor="middle" stroke="#000" stroke-width="0.2" textLength="41.4" lengthAdjust="spacingAndGlyphs">Chlb (mg/g)</text>
<rect x="604.9" y="296.6" width="14.2" height="7.2" fill="#0a6438"/>
<text transform="translate(627.1,304.6) scale(0.8,1)" font-family='"Liberation Serif", serif' font-size="12.8" font-weight="bold" text-anchor="start" fill="#000">Control</text>
<rect x="604.9" y="317.1" width="14.2" height="6.8" fill="#0e9155"/>
<text transform="translate(627.1,324.4) scale(0.8,1)" font-family='"Liberation Serif", serif' font-size="12.8" font-weight="bold" text-anchor="start" fill="#000">T1</text>
<rect x="604.9" y="336.3" width="14.2" height="7.4" fill="#12c470"/>
<text transform="translate(627.1,343.9) scale(0.8,1)" font-family='"Liberation Serif", serif' font-size="12.8" font-weight="bold" text-anchor="start" fill="#000">T2</text>
<rect x="604.9" y="356.4" width="14.2" height="7.4" fill="#a2f5a2"/>
<text transform="translate(627.1,364) scale(0.8,1)" font-family='"Liberation Serif", serif' font-size="12.8" font-weight="bold" text-anchor="start" fill="#000">T3</text>
</svg></body></html>
